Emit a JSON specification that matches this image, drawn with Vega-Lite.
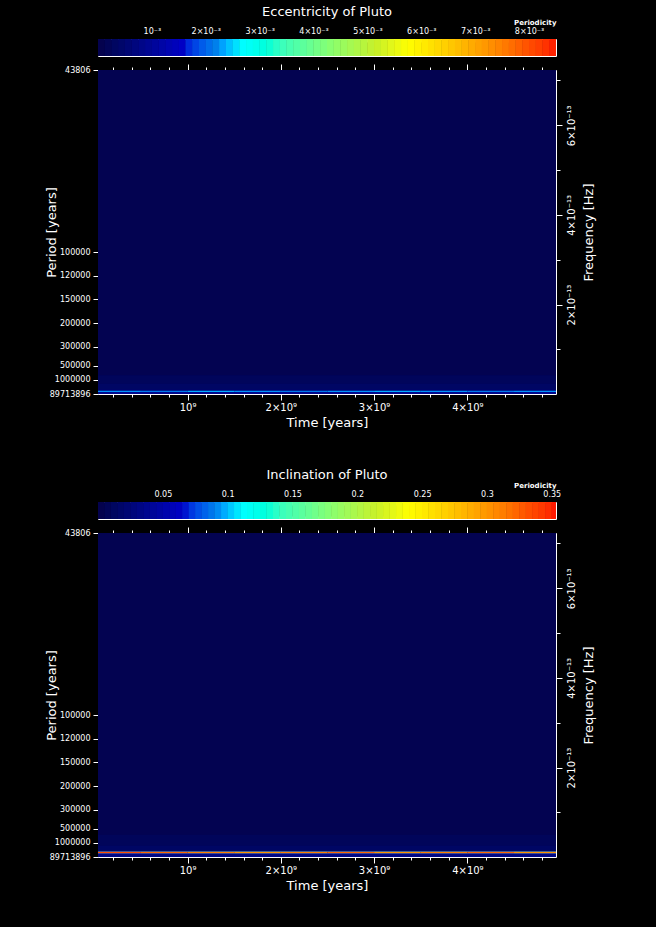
{
  "$schema": "https://vega.github.io/schema/vega-lite/v6.json",
  "background": "black",
  "autosize": "none",
  "padding": {"left": 98, "top": 39, "right": 100, "bottom": 888},
  "config": {
    "font": "DejaVu Sans",
    "view": {"stroke": "white", "strokeWidth": 1},
    "axis": {"domain": false, "grid": false, "tickColor": "white", "tickWidth": 1, "labelColor": "white", "titleColor": "white", "labelFont": "DejaVu Sans", "titleFont": "DejaVu Sans", "titleFontWeight": "normal", "labelOverlap": false, "labelFlush": false},
    "title": {"color": "white", "font": "DejaVu Sans", "fontWeight": "normal", "fontSize": 13}
  },
  "datasets": {
    "cbar1": [
      {"lo":0,"hi":0.000125},{"lo":0.000125,"hi":0.00025},{"lo":0.00025,"hi":0.000375},{"lo":0.000375,"hi":0.0005},{"lo":0.0005,"hi":0.000625},{"lo":0.000625,"hi":0.00075},{"lo":0.00075,"hi":0.000875},{"lo":0.000875,"hi":0.001},
      {"lo":0.001,"hi":0.001125},{"lo":0.001125,"hi":0.00125},{"lo":0.00125,"hi":0.001375},{"lo":0.001375,"hi":0.0015},{"lo":0.0015,"hi":0.001625},{"lo":0.001625,"hi":0.00175},{"lo":0.00175,"hi":0.001875},{"lo":0.001875,"hi":0.002},
      {"lo":0.002,"hi":0.002125},{"lo":0.002125,"hi":0.00225},{"lo":0.00225,"hi":0.002375},{"lo":0.002375,"hi":0.0025},{"lo":0.0025,"hi":0.002625},{"lo":0.002625,"hi":0.00275},{"lo":0.00275,"hi":0.002875},{"lo":0.002875,"hi":0.003},
      {"lo":0.003,"hi":0.003125},{"lo":0.003125,"hi":0.00325},{"lo":0.00325,"hi":0.003375},{"lo":0.003375,"hi":0.0035},{"lo":0.0035,"hi":0.003625},{"lo":0.003625,"hi":0.00375},{"lo":0.00375,"hi":0.003875},{"lo":0.003875,"hi":0.004},
      {"lo":0.004,"hi":0.004125},{"lo":0.004125,"hi":0.00425},{"lo":0.00425,"hi":0.004375},{"lo":0.004375,"hi":0.0045},{"lo":0.0045,"hi":0.004625},{"lo":0.004625,"hi":0.00475},{"lo":0.00475,"hi":0.004875},{"lo":0.004875,"hi":0.005},
      {"lo":0.005,"hi":0.005125},{"lo":0.005125,"hi":0.00525},{"lo":0.00525,"hi":0.005375},{"lo":0.005375,"hi":0.0055},{"lo":0.0055,"hi":0.005625},{"lo":0.005625,"hi":0.00575},{"lo":0.00575,"hi":0.005875},{"lo":0.005875,"hi":0.006},
      {"lo":0.006,"hi":0.006125},{"lo":0.006125,"hi":0.00625},{"lo":0.00625,"hi":0.006375},{"lo":0.006375,"hi":0.0065},{"lo":0.0065,"hi":0.006625},{"lo":0.006625,"hi":0.00675},{"lo":0.00675,"hi":0.006875},{"lo":0.006875,"hi":0.007},
      {"lo":0.007,"hi":0.007125},{"lo":0.007125,"hi":0.00725},{"lo":0.00725,"hi":0.007375},{"lo":0.007375,"hi":0.0075},{"lo":0.0075,"hi":0.007625},{"lo":0.007625,"hi":0.00775},{"lo":0.00775,"hi":0.007875},{"lo":0.007875,"hi":0.008},
      {"lo":0.008,"hi":0.008125},{"lo":0.008125,"hi":0.00825},{"lo":0.00825,"hi":0.008375},{"lo":0.008375,"hi":0.0085}
    ],
    "cbar2": [
      {"lo":0,"hi":0.005},{"lo":0.005,"hi":0.01},{"lo":0.01,"hi":0.015},{"lo":0.015,"hi":0.02},{"lo":0.02,"hi":0.025},{"lo":0.025,"hi":0.03},{"lo":0.03,"hi":0.035},{"lo":0.035,"hi":0.04},{"lo":0.04,"hi":0.045},{"lo":0.045,"hi":0.05},
      {"lo":0.05,"hi":0.055},{"lo":0.055,"hi":0.06},{"lo":0.06,"hi":0.065},{"lo":0.065,"hi":0.07},{"lo":0.07,"hi":0.075},{"lo":0.075,"hi":0.08},{"lo":0.08,"hi":0.085},{"lo":0.085,"hi":0.09},{"lo":0.09,"hi":0.095},{"lo":0.095,"hi":0.1},
      {"lo":0.1,"hi":0.105},{"lo":0.105,"hi":0.11},{"lo":0.11,"hi":0.115},{"lo":0.115,"hi":0.12},{"lo":0.12,"hi":0.125},{"lo":0.125,"hi":0.13},{"lo":0.13,"hi":0.135},{"lo":0.135,"hi":0.14},{"lo":0.14,"hi":0.145},{"lo":0.145,"hi":0.15},
      {"lo":0.15,"hi":0.155},{"lo":0.155,"hi":0.16},{"lo":0.16,"hi":0.165},{"lo":0.165,"hi":0.17},{"lo":0.17,"hi":0.175},{"lo":0.175,"hi":0.18},{"lo":0.18,"hi":0.185},{"lo":0.185,"hi":0.19},{"lo":0.19,"hi":0.195},{"lo":0.195,"hi":0.2},
      {"lo":0.2,"hi":0.205},{"lo":0.205,"hi":0.21},{"lo":0.21,"hi":0.215},{"lo":0.215,"hi":0.22},{"lo":0.22,"hi":0.225},{"lo":0.225,"hi":0.23},{"lo":0.23,"hi":0.235},{"lo":0.235,"hi":0.24},{"lo":0.24,"hi":0.245},{"lo":0.245,"hi":0.25},
      {"lo":0.25,"hi":0.255},{"lo":0.255,"hi":0.26},{"lo":0.26,"hi":0.265},{"lo":0.265,"hi":0.27},{"lo":0.27,"hi":0.275},{"lo":0.275,"hi":0.28},{"lo":0.28,"hi":0.285},{"lo":0.285,"hi":0.29},{"lo":0.29,"hi":0.295},{"lo":0.295,"hi":0.3},
      {"lo":0.3,"hi":0.305},{"lo":0.305,"hi":0.31},{"lo":0.31,"hi":0.315},{"lo":0.315,"hi":0.32},{"lo":0.32,"hi":0.325},{"lo":0.325,"hi":0.33},{"lo":0.33,"hi":0.335},{"lo":0.335,"hi":0.34},{"lo":0.34,"hi":0.345},{"lo":0.345,"hi":0.35},
      {"lo":0.35,"hi":0.355}
    ],
    "heat1": [
      {"t0":0,"t1":5e9,"f0":0,"f1":7.3e-13,"v":0.00004,"part":"bg"},
      {"t0":0,"t1":5e9,"f0":2.4e-14,"f1":4.2e-14,"v":0.00018,"part":"band"},
      {"t0":0,"t1":5e9,"f0":1.0e-14,"f1":2.4e-14,"v":0.0003,"part":"band"},
      {"t0":0,"t1":5e9,"f0":0,"f1":4.8e-15,"v":0.0008,"part":"fringe"},
      {"t0":0,"t1":5e9,"f0":7.6e-15,"f1":1.0e-14,"v":0.0007,"part":"fringe"},
      {"t0":0,"t1":5e8,"f0":4.8e-15,"f1":7.6e-15,"v":0.0022,"part":"line"},
      {"t0":5e8,"t1":1e9,"f0":4.8e-15,"f1":7.6e-15,"v":0.0021,"part":"line"},
      {"t0":1e9,"t1":1.5e9,"f0":4.8e-15,"f1":7.6e-15,"v":0.0023,"part":"line"},
      {"t0":1.5e9,"t1":2e9,"f0":4.8e-15,"f1":7.6e-15,"v":0.0022,"part":"line"},
      {"t0":2e9,"t1":2.5e9,"f0":4.8e-15,"f1":7.6e-15,"v":0.0021,"part":"line"},
      {"t0":2.5e9,"t1":3e9,"f0":4.8e-15,"f1":7.6e-15,"v":0.0022,"part":"line"},
      {"t0":3e9,"t1":3.5e9,"f0":4.8e-15,"f1":7.6e-15,"v":0.0023,"part":"line"},
      {"t0":3.5e9,"t1":4e9,"f0":4.8e-15,"f1":7.6e-15,"v":0.0022,"part":"line"},
      {"t0":4e9,"t1":4.5e9,"f0":4.8e-15,"f1":7.6e-15,"v":0.0021,"part":"line"},
      {"t0":4.5e9,"t1":5e9,"f0":4.8e-15,"f1":7.6e-15,"v":0.0022,"part":"line"}
    ],
    "heat2": [
      {"t0":0,"t1":5e9,"f0":0,"f1":7.3e-13,"v":0.0015,"part":"bg"},
      {"t0":0,"t1":5e9,"f0":2.6e-14,"f1":5.0e-14,"v":0.007,"part":"band"},
      {"t0":0,"t1":5e9,"f0":1.4e-14,"f1":2.6e-14,"v":0.012,"part":"band"},
      {"t0":0,"t1":5e9,"f0":0,"f1":6.8e-15,"v":0.03,"part":"fringe"},
      {"t0":0,"t1":5e9,"f0":6.8e-15,"f1":9.0e-15,"v":0.075,"part":"fringe"},
      {"t0":0,"t1":5e9,"f0":1.18e-14,"f1":1.4e-14,"v":0.085,"part":"fringe"},
      {"t0":0,"t1":5e8,"f0":9.0e-15,"f1":1.18e-14,"v":0.33,"part":"line"},
      {"t0":5e8,"t1":1e9,"f0":9.0e-15,"f1":1.18e-14,"v":0.32,"part":"line"},
      {"t0":1e9,"t1":1.5e9,"f0":9.0e-15,"f1":1.18e-14,"v":0.31,"part":"line"},
      {"t0":1.5e9,"t1":2e9,"f0":9.0e-15,"f1":1.18e-14,"v":0.30,"part":"line"},
      {"t0":2e9,"t1":2.5e9,"f0":9.0e-15,"f1":1.18e-14,"v":0.31,"part":"line"},
      {"t0":2.5e9,"t1":3e9,"f0":9.0e-15,"f1":1.18e-14,"v":0.32,"part":"line"},
      {"t0":3e9,"t1":3.5e9,"f0":9.0e-15,"f1":1.18e-14,"v":0.30,"part":"line"},
      {"t0":3.5e9,"t1":4e9,"f0":9.0e-15,"f1":1.18e-14,"v":0.31,"part":"line"},
      {"t0":4e9,"t1":4.5e9,"f0":9.0e-15,"f1":1.18e-14,"v":0.32,"part":"line"},
      {"t0":4.5e9,"t1":5e9,"f0":9.0e-15,"f1":1.18e-14,"v":0.30,"part":"line"}
    ],
    "spacer": [{"a": 0}]
  },
  "bounds": "flush",
  "spacing": 14,
  "resolve": {"scale": {"x": "independent", "y": "independent", "color": "independent"}},
  "vconcat": [
    {
      "width": 458, "height": 17,
      "title": {"text": "Eccentricity of Pluto", "offset": -1, "frame": "group"},
      "data": {"name": "cbar1"},
      "layer": [
        {
          "mark": {"type": "rect", "clip": true},
          "encoding": {
            "x": {"field": "lo", "type": "quantitative", "scale": {"domain": [0, 0.0085], "nice": false, "zero": false},
              "axis": {"orient": "top", "values": [0.0002,0.0004,0.0006,0.0008,0.001,0.0012,0.0014,0.0016,0.0018,0.002,0.0022,0.0024,0.0026,0.0028,0.003,0.0032,0.0034,0.0036,0.0038,0.004,0.0042,0.0044,0.0046,0.0048,0.005,0.0052,0.0054,0.0056,0.0058,0.006,0.0062,0.0064,0.0066,0.0068,0.007,0.0072,0.0074,0.0076,0.0078,0.008,0.0082,0.0084],
                "tickSize": -3, "labelFontSize": 8, "labelPadding": 7,
                "labelExpr": "abs(datum.value*1000 - round(datum.value*1000)) < 0.01 ? (round(datum.value*1000) == 1 ? '10⁻³' : round(datum.value*1000) + '×10⁻³') : ''",
                "title": "Periodicity", "titleAnchor": "end", "titleFontSize": 7, "titleFontWeight": "bold", "titlePadding": 2}},
            "x2": {"field": "hi"},
            "y": {"datum": 0, "type": "quantitative", "scale": {"domain": [0, 1], "nice": false, "zero": false}, "axis": null},
            "y2": {"datum": 1},
            "color": {"field": "lo", "type": "quantitative", "legend": null,
              "scale": {"type": "linear", "clamp": true, "nice": false, "zero": false,
                "domain": [0, 0.00153, 0.001615, 0.002125, 0.002635, 0.0034, 0.00425, 0.0051, 0.005695, 0.006375, 0.007225, 0.007905, 0.0085],
                "range": ["#04024e","#0000c8","#0028dc","#0080ec","#00ffff","#40ffb8","#88ff70","#c8f028","#ffff00","#ffd000","#ff9000","#ff5000","#ff0000"]}}
          }
        },
        {
          "mark": {"type": "rect", "clip": true},
          "encoding": {
            "x": {"field": "lo", "type": "quantitative", "scale": {"domain": [0, 0.0085], "nice": false, "zero": false},
              "axis": {"orient": "bottom", "values": [0.0002,0.0004,0.0006,0.0008,0.001,0.0012,0.0014,0.0016,0.0018,0.002,0.0022,0.0024,0.0026,0.0028,0.003,0.0032,0.0034,0.0036,0.0038,0.004,0.0042,0.0044,0.0046,0.0048,0.005,0.0052,0.0054,0.0056,0.0058,0.006,0.0062,0.0064,0.0066,0.0068,0.007,0.0072,0.0074,0.0076,0.0078,0.008,0.0082,0.0084],
                "tickSize": -3, "labels": false, "title": null}},
            "x2": {"field": "hi"},
            "y": {"datum": 0, "type": "quantitative", "scale": {"domain": [0, 1], "nice": false, "zero": false}, "axis": null},
            "y2": {"datum": 1},
            "color": {"field": "lo", "type": "quantitative", "legend": null,
              "scale": {"type": "linear", "clamp": true, "nice": false, "zero": false,
                "domain": [0, 0.00153, 0.001615, 0.002125, 0.002635, 0.0034, 0.00425, 0.0051, 0.005695, 0.006375, 0.007225, 0.007905, 0.0085],
                "range": ["#04024e","#0000c8","#0028dc","#0080ec","#00ffff","#40ffb8","#88ff70","#c8f028","#ffff00","#ffd000","#ff9000","#ff5000","#ff0000"]}}
          }
        }
      ],
      "resolve": {"axis": {"x": "independent"}}
    },
    {
      "width": 458, "height": 324,
      "data": {"name": "heat1"},
      "layer": [
        {
          "transform": [{"filter": "datum.part == 'bg'"}],
          "mark": {"type": "rect", "clip": true},
          "encoding": {
            "x": {"field": "t0", "type": "quantitative", "scale": {"domain": [40000000, 4950000000], "nice": false, "zero": false},
              "axis": {"orient": "bottom", "values": [1e9, 2e9, 3e9, 4e9], "tickSize": 6, "labelFontSize": 10, "labelPadding": 2,
                "labelExpr": "datum.value < 1.5e9 ? '10⁹' : round(datum.value/1e9) + '×10⁹'",
                "title": "Time [years]", "titleFontSize": 13, "titlePadding": 4}},
            "x2": {"field": "t1"},
            "y": {"field": "f0", "type": "quantitative", "scale": {"domain": [3.532127e-16, 7.2338e-13], "nice": false, "zero": false},
              "axis": {"orient": "left", "values": [3.532127e-16, 3.168809e-14, 6.337618e-14, 1.056270e-13, 1.584404e-13, 2.112539e-13, 2.640674e-13, 3.168809e-13, 7.2338e-13],
                "tickSize": 5, "labelFontSize": 8, "labelPadding": 3,
                "labelExpr": "datum.value < 1e-15 ? '89713896' : format(1/(datum.value*31557600), 'd')",
                "title": "Period [years]", "titleFontSize": 13, "titlePadding": -9}},
            "y2": {"field": "f1"},
            "color": {"field": "v", "type": "quantitative", "legend": null,
              "scale": {"type": "linear", "clamp": true, "nice": false, "zero": false,
                "domain": [0, 0.00153, 0.001615, 0.002125, 0.002635, 0.0034, 0.00425, 0.0051, 0.005695, 0.006375, 0.007225, 0.007905, 0.0085],
                "range": ["#04024e","#0000c8","#0028dc","#0080ec","#00ffff","#40ffb8","#88ff70","#c8f028","#ffff00","#ffd000","#ff9000","#ff5000","#ff0000"]}}
          }
        },
        {
          "transform": [{"filter": "datum.part == 'band'"}],
          "mark": {"type": "rect", "clip": true},
          "encoding": {
            "x": {"field": "t0", "type": "quantitative", "scale": {"domain": [40000000, 4950000000], "nice": false, "zero": false},
              "axis": {"orient": "bottom", "values": [2e8,4e8,6e8,8e8,1.2e9,1.4e9,1.6e9,1.8e9,2.2e9,2.4e9,2.6e9,2.8e9,3.2e9,3.4e9,3.6e9,3.8e9,4.2e9,4.4e9,4.6e9,4.8e9], "tickSize": 3, "labels": false, "title": null}},
            "x2": {"field": "t1"},
            "y": {"field": "f0", "type": "quantitative", "scale": {"domain": [3.532127e-16, 7.2338e-13], "nice": false, "zero": false},
              "axis": {"orient": "right", "values": [2e-13, 4e-13, 6e-13], "tickSize": 6, "labelFontSize": 10, "labelPadding": 4,
                "labelAngle": 270, "labelAlign": "center", "labelBaseline": "top",
                "labelExpr": "round(datum.value*1e13) + '×10⁻¹³'",
                "title": "Frequency [Hz]", "titleAngle": 270, "titleFontSize": 13, "titlePadding": 19}},
            "y2": {"field": "f1"},
            "color": {"field": "v", "type": "quantitative", "legend": null,
              "scale": {"type": "linear", "clamp": true, "nice": false, "zero": false,
                "domain": [0, 0.00153, 0.001615, 0.002125, 0.002635, 0.0034, 0.00425, 0.0051, 0.005695, 0.006375, 0.007225, 0.007905, 0.0085],
                "range": ["#04024e","#0000c8","#0028dc","#0080ec","#00ffff","#40ffb8","#88ff70","#c8f028","#ffff00","#ffd000","#ff9000","#ff5000","#ff0000"]}}
          }
        },
        {
          "transform": [{"filter": "datum.part == 'fringe'"}],
          "mark": {"type": "rect", "clip": true},
          "encoding": {
            "x": {"field": "t0", "type": "quantitative", "scale": {"domain": [40000000, 4950000000], "nice": false, "zero": false},
              "axis": {"orient": "top", "values": [1e9, 2e9, 3e9, 4e9], "tickSize": 6, "labels": false, "title": null}},
            "x2": {"field": "t1"},
            "y": {"field": "f0", "type": "quantitative", "scale": {"domain": [3.532127e-16, 7.2338e-13], "nice": false, "zero": false},
              "axis": {"orient": "right", "values": [1e-13, 3e-13, 5e-13, 7e-13], "tickSize": 4, "labels": false, "title": null}},
            "y2": {"field": "f1"},
            "color": {"field": "v", "type": "quantitative", "legend": null,
              "scale": {"type": "linear", "clamp": true, "nice": false, "zero": false,
                "domain": [0, 0.00153, 0.001615, 0.002125, 0.002635, 0.0034, 0.00425, 0.0051, 0.005695, 0.006375, 0.007225, 0.007905, 0.0085],
                "range": ["#04024e","#0000c8","#0028dc","#0080ec","#00ffff","#40ffb8","#88ff70","#c8f028","#ffff00","#ffd000","#ff9000","#ff5000","#ff0000"]}}
          }
        },
        {
          "transform": [{"filter": "datum.part == 'line'"}],
          "mark": {"type": "rect", "clip": true},
          "encoding": {
            "x": {"field": "t0", "type": "quantitative", "scale": {"domain": [40000000, 4950000000], "nice": false, "zero": false},
              "axis": {"orient": "top", "values": [2e8,4e8,6e8,8e8,1.2e9,1.4e9,1.6e9,1.8e9,2.2e9,2.4e9,2.6e9,2.8e9,3.2e9,3.4e9,3.6e9,3.8e9,4.2e9,4.4e9,4.6e9,4.8e9], "tickSize": 3, "labels": false, "title": null}},
            "x2": {"field": "t1"},
            "y": {"field": "f0", "type": "quantitative", "scale": {"domain": [3.532127e-16, 7.2338e-13], "nice": false, "zero": false}, "axis": null},
            "y2": {"field": "f1"},
            "color": {"field": "v", "type": "quantitative", "legend": null,
              "scale": {"type": "linear", "clamp": true, "nice": false, "zero": false,
                "domain": [0, 0.00153, 0.001615, 0.002125, 0.002635, 0.0034, 0.00425, 0.0051, 0.005695, 0.006375, 0.007225, 0.007905, 0.0085],
                "range": ["#04024e","#0000c8","#0028dc","#0080ec","#00ffff","#40ffb8","#88ff70","#c8f028","#ffff00","#ffd000","#ff9000","#ff5000","#ff0000"]}}
          }
        }
      ],
      "resolve": {"axis": {"x": "independent", "y": "independent"}}
    },
    {
      "width": 458, "height": 80,
      "data": {"name": "spacer"},
      "view": {"stroke": null},
      "mark": {"type": "point", "opacity": 0},
      "encoding": {}
    },
    {
      "width": 458, "height": 17,
      "title": {"text": "Inclination of Pluto", "offset": -1, "frame": "group"},
      "data": {"name": "cbar2"},
      "layer": [
        {
          "mark": {"type": "rect", "clip": true},
          "encoding": {
            "x": {"field": "lo", "type": "quantitative", "scale": {"domain": [0, 0.3533], "nice": false, "zero": false},
              "axis": {"orient": "top", "values": [0.01,0.02,0.03,0.04,0.05,0.06,0.07,0.08,0.09,0.1,0.11,0.12,0.13,0.14,0.15,0.16,0.17,0.18,0.19,0.2,0.21,0.22,0.23,0.24,0.25,0.26,0.27,0.28,0.29,0.3,0.31,0.32,0.33,0.34,0.35],
                "tickSize": -3, "labelFontSize": 8, "labelPadding": 7,
                "labelExpr": "abs(datum.value*20 - round(datum.value*20)) < 0.01 ? format(datum.value, '.2~f') : ''",
                "title": "Periodicity", "titleAnchor": "end", "titleFontSize": 7, "titleFontWeight": "bold", "titlePadding": 2}},
            "x2": {"field": "hi"},
            "y": {"datum": 0, "type": "quantitative", "scale": {"domain": [0, 1], "nice": false, "zero": false}, "axis": null},
            "y2": {"datum": 1},
            "color": {"field": "lo", "type": "quantitative", "legend": null,
              "scale": {"type": "linear", "clamp": true, "nice": false, "zero": false,
                "domain": [0, 0.063594, 0.067127, 0.088325, 0.109523, 0.14132, 0.17665, 0.21198, 0.236711, 0.264975, 0.300305, 0.328569, 0.3533],
                "range": ["#04024e","#0000c8","#0028dc","#0080ec","#00ffff","#40ffb8","#88ff70","#c8f028","#ffff00","#ffd000","#ff9000","#ff5000","#ff0000"]}}
          }
        },
        {
          "mark": {"type": "rect", "clip": true},
          "encoding": {
            "x": {"field": "lo", "type": "quantitative", "scale": {"domain": [0, 0.3533], "nice": false, "zero": false},
              "axis": {"orient": "bottom", "values": [0.01,0.02,0.03,0.04,0.05,0.06,0.07,0.08,0.09,0.1,0.11,0.12,0.13,0.14,0.15,0.16,0.17,0.18,0.19,0.2,0.21,0.22,0.23,0.24,0.25,0.26,0.27,0.28,0.29,0.3,0.31,0.32,0.33,0.34,0.35],
                "tickSize": -3, "labels": false, "title": null}},
            "x2": {"field": "hi"},
            "y": {"datum": 0, "type": "quantitative", "scale": {"domain": [0, 1], "nice": false, "zero": false}, "axis": null},
            "y2": {"datum": 1},
            "color": {"field": "lo", "type": "quantitative", "legend": null,
              "scale": {"type": "linear", "clamp": true, "nice": false, "zero": false,
                "domain": [0, 0.063594, 0.067127, 0.088325, 0.109523, 0.14132, 0.17665, 0.21198, 0.236711, 0.264975, 0.300305, 0.328569, 0.3533],
                "range": ["#04024e","#0000c8","#0028dc","#0080ec","#00ffff","#40ffb8","#88ff70","#c8f028","#ffff00","#ffd000","#ff9000","#ff5000","#ff0000"]}}
          }
        }
      ],
      "resolve": {"axis": {"x": "independent"}}
    },
    {
      "width": 458, "height": 324,
      "data": {"name": "heat2"},
      "layer": [
        {
          "transform": [{"filter": "datum.part == 'bg'"}],
          "mark": {"type": "rect", "clip": true},
          "encoding": {
            "x": {"field": "t0", "type": "quantitative", "scale": {"domain": [40000000, 4950000000], "nice": false, "zero": false},
              "axis": {"orient": "bottom", "values": [1e9, 2e9, 3e9, 4e9], "tickSize": 6, "labelFontSize": 10, "labelPadding": 2,
                "labelExpr": "datum.value < 1.5e9 ? '10⁹' : round(datum.value/1e9) + '×10⁹'",
                "title": "Time [years]", "titleFontSize": 13, "titlePadding": 4}},
            "x2": {"field": "t1"},
            "y": {"field": "f0", "type": "quantitative", "scale": {"domain": [3.532127e-16, 7.2338e-13], "nice": false, "zero": false},
              "axis": {"orient": "left", "values": [3.532127e-16, 3.168809e-14, 6.337618e-14, 1.056270e-13, 1.584404e-13, 2.112539e-13, 2.640674e-13, 3.168809e-13, 7.2338e-13],
                "tickSize": 5, "labelFontSize": 8, "labelPadding": 3,
                "labelExpr": "datum.value < 1e-15 ? '89713896' : format(1/(datum.value*31557600), 'd')",
                "title": "Period [years]", "titleFontSize": 13, "titlePadding": -9}},
            "y2": {"field": "f1"},
            "color": {"field": "v", "type": "quantitative", "legend": null,
              "scale": {"type": "linear", "clamp": true, "nice": false, "zero": false,
                "domain": [0, 0.063594, 0.067127, 0.088325, 0.109523, 0.14132, 0.17665, 0.21198, 0.236711, 0.264975, 0.300305, 0.328569, 0.3533],
                "range": ["#04024e","#0000c8","#0028dc","#0080ec","#00ffff","#40ffb8","#88ff70","#c8f028","#ffff00","#ffd000","#ff9000","#ff5000","#ff0000"]}}
          }
        },
        {
          "transform": [{"filter": "datum.part == 'band'"}],
          "mark": {"type": "rect", "clip": true},
          "encoding": {
            "x": {"field": "t0", "type": "quantitative", "scale": {"domain": [40000000, 4950000000], "nice": false, "zero": false},
              "axis": {"orient": "bottom", "values": [2e8,4e8,6e8,8e8,1.2e9,1.4e9,1.6e9,1.8e9,2.2e9,2.4e9,2.6e9,2.8e9,3.2e9,3.4e9,3.6e9,3.8e9,4.2e9,4.4e9,4.6e9,4.8e9], "tickSize": 3, "labels": false, "title": null}},
            "x2": {"field": "t1"},
            "y": {"field": "f0", "type": "quantitative", "scale": {"domain": [3.532127e-16, 7.2338e-13], "nice": false, "zero": false},
              "axis": {"orient": "right", "values": [2e-13, 4e-13, 6e-13], "tickSize": 6, "labelFontSize": 10, "labelPadding": 4,
                "labelAngle": 270, "labelAlign": "center", "labelBaseline": "top",
                "labelExpr": "round(datum.value*1e13) + '×10⁻¹³'",
                "title": "Frequency [Hz]", "titleAngle": 270, "titleFontSize": 13, "titlePadding": 19}},
            "y2": {"field": "f1"},
            "color": {"field": "v", "type": "quantitative", "legend": null,
              "scale": {"type": "linear", "clamp": true, "nice": false, "zero": false,
                "domain": [0, 0.063594, 0.067127, 0.088325, 0.109523, 0.14132, 0.17665, 0.21198, 0.236711, 0.264975, 0.300305, 0.328569, 0.3533],
                "range": ["#04024e","#0000c8","#0028dc","#0080ec","#00ffff","#40ffb8","#88ff70","#c8f028","#ffff00","#ffd000","#ff9000","#ff5000","#ff0000"]}}
          }
        },
        {
          "transform": [{"filter": "datum.part == 'fringe'"}],
          "mark": {"type": "rect", "clip": true},
          "encoding": {
            "x": {"field": "t0", "type": "quantitative", "scale": {"domain": [40000000, 4950000000], "nice": false, "zero": false},
              "axis": {"orient": "top", "values": [1e9, 2e9, 3e9, 4e9], "tickSize": 6, "labels": false, "title": null}},
            "x2": {"field": "t1"},
            "y": {"field": "f0", "type": "quantitative", "scale": {"domain": [3.532127e-16, 7.2338e-13], "nice": false, "zero": false},
              "axis": {"orient": "right", "values": [1e-13, 3e-13, 5e-13, 7e-13], "tickSize": 4, "labels": false, "title": null}},
            "y2": {"field": "f1"},
            "color": {"field": "v", "type": "quantitative", "legend": null,
              "scale": {"type": "linear", "clamp": true, "nice": false, "zero": false,
                "domain": [0, 0.063594, 0.067127, 0.088325, 0.109523, 0.14132, 0.17665, 0.21198, 0.236711, 0.264975, 0.300305, 0.328569, 0.3533],
                "range": ["#04024e","#0000c8","#0028dc","#0080ec","#00ffff","#40ffb8","#88ff70","#c8f028","#ffff00","#ffd000","#ff9000","#ff5000","#ff0000"]}}
          }
        },
        {
          "transform": [{"filter": "datum.part == 'line'"}],
          "mark": {"type": "rect", "clip": true},
          "encoding": {
            "x": {"field": "t0", "type": "quantitative", "scale": {"domain": [40000000, 4950000000], "nice": false, "zero": false},
              "axis": {"orient": "top", "values": [2e8,4e8,6e8,8e8,1.2e9,1.4e9,1.6e9,1.8e9,2.2e9,2.4e9,2.6e9,2.8e9,3.2e9,3.4e9,3.6e9,3.8e9,4.2e9,4.4e9,4.6e9,4.8e9], "tickSize": 3, "labels": false, "title": null}},
            "x2": {"field": "t1"},
            "y": {"field": "f0", "type": "quantitative", "scale": {"domain": [3.532127e-16, 7.2338e-13], "nice": false, "zero": false}, "axis": null},
            "y2": {"field": "f1"},
            "color": {"field": "v", "type": "quantitative", "legend": null,
              "scale": {"type": "linear", "clamp": true, "nice": false, "zero": false,
                "domain": [0, 0.063594, 0.067127, 0.088325, 0.109523, 0.14132, 0.17665, 0.21198, 0.236711, 0.264975, 0.300305, 0.328569, 0.3533],
                "range": ["#04024e","#0000c8","#0028dc","#0080ec","#00ffff","#40ffb8","#88ff70","#c8f028","#ffff00","#ffd000","#ff9000","#ff5000","#ff0000"]}}
          }
        }
      ],
      "resolve": {"axis": {"x": "independent", "y": "independent"}}
    }
  ]
}
